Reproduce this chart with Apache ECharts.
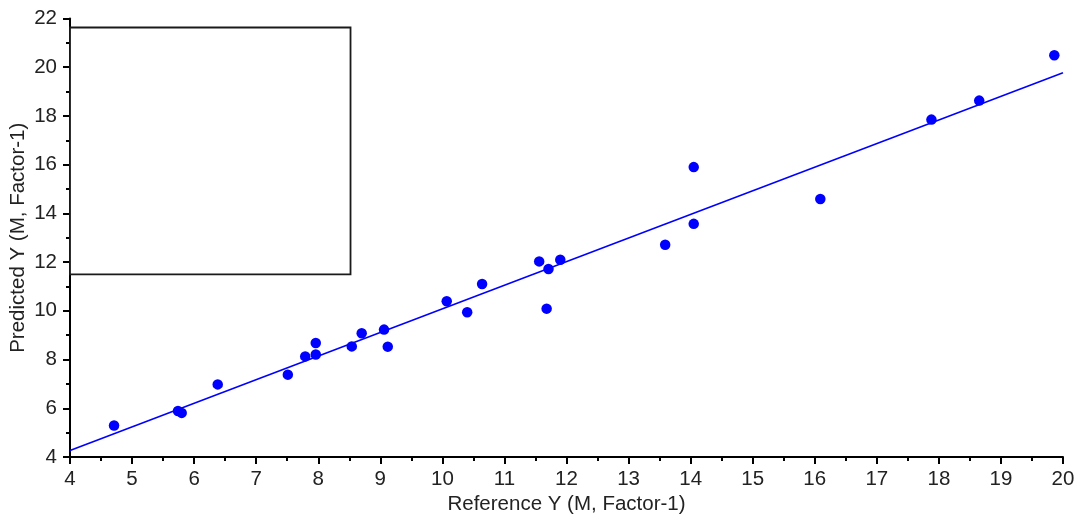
<!DOCTYPE html>
<html>
<head>
<meta charset="utf-8">
<script src="https://cdn.jsdelivr.net/npm/echarts@6/dist/echarts.min.js"></script>
<style>html,body{margin:0;padding:0;background:#fff;}#c{width:1079px;height:519px;}</style>
</head>
<body>
<div id="c"></div>
<script>
// Data
var refX = [4.71, 5.74, 5.80, 6.38, 7.51, 7.79, 7.96, 7.96, 8.54, 8.70, 9.06, 9.12,
            10.07, 10.40, 10.64, 11.56, 11.71, 11.68, 11.90, 13.59, 14.05, 14.05,
            16.09, 17.88, 18.65, 19.86];
var predY = [5.29, 5.89, 5.81, 6.98, 7.38, 8.13, 8.68, 8.21, 8.54, 9.08, 9.23, 8.53,
             10.39, 9.94, 11.10, 12.03, 11.72, 10.09, 12.10, 12.71, 15.90, 13.57,
             14.59, 17.85, 18.63, 20.49];
var fitX = [4, 20];
var fitY = [4.27, 19.77];
// empty legend frame (data coords: [x0, y0], [x1, y1])
var legendBox = [[4, 11.5], [8.52, 21.63]];
var xTitle = 'Reference Y (M, Factor-1)';
var yTitle = 'Predicted Y (M, Factor-1)';

var pts = refX.map(function (x, i) { return [x, predY[i]]; });
var fitPts = fitX.map(function (x, i) { return [x, fitY[i]]; });

var font = 'Liberation Sans, Arial, sans-serif';
var chart = echarts.init(document.getElementById('c'), null, {renderer: 'canvas'});
chart.setOption({
  animation: false,
  backgroundColor: '#fff',
  grid: {left: 70, right: 16, top: 18.5, bottom: 62, containLabel: false, outerBoundsMode: 'none'},
  xAxis: {
    type: 'value', min: 4, max: 20, interval: 1,
    name: xTitle, nameLocation: 'middle', nameGap: 37, nameMoveOverlap: false,
    nameTextStyle: {fontFamily: font, fontSize: 20.5, color: '#222'},
    axisLine: {show: true, onZero: false, lineStyle: {color: '#000', width: 2}},
    axisTick: {show: true, inside: false, length: 7, lineStyle: {color: '#000', width: 2}},
    minorTick: {show: true, splitNumber: 2, length: 4, lineStyle: {color: '#000', width: 2}},
    axisLabel: {fontFamily: font, fontSize: 20.5, color: '#222', margin: 12},
    splitLine: {show: false}
  },
  yAxis: {
    type: 'value', min: 4, max: 22, interval: 2,
    name: yTitle, nameLocation: 'middle', nameGap: 41, nameMoveOverlap: false,
    nameTextStyle: {fontFamily: font, fontSize: 20.5, color: '#222'},
    axisLine: {show: true, onZero: false, lineStyle: {color: '#000', width: 2}},
    axisTick: {show: true, inside: false, length: 7, lineStyle: {color: '#000', width: 2}},
    minorTick: {show: true, splitNumber: 2, length: 4, lineStyle: {color: '#000', width: 2}},
    axisLabel: {fontFamily: font, fontSize: 20.5, color: '#222', margin: 13},
    splitLine: {show: false}
  },
  series: [
    {
      type: 'line', data: fitPts, symbol: 'none', silent: true,
      lineStyle: {color: '#0000ff', width: 1.6},
      markArea: {
        silent: true,
        itemStyle: {color: '#ffffff', borderColor: '#1a1a1a', borderWidth: 1.8},
        data: [[{coord: legendBox[0]}, {coord: legendBox[1]}]]
      },
      z: 2
    },
    {
      type: 'scatter', data: pts, symbol: 'circle', symbolSize: 10.5,
      itemStyle: {color: '#0000ff', opacity: 1},
      z: 3
    }
  ]
});
</script>
</body>
</html>
